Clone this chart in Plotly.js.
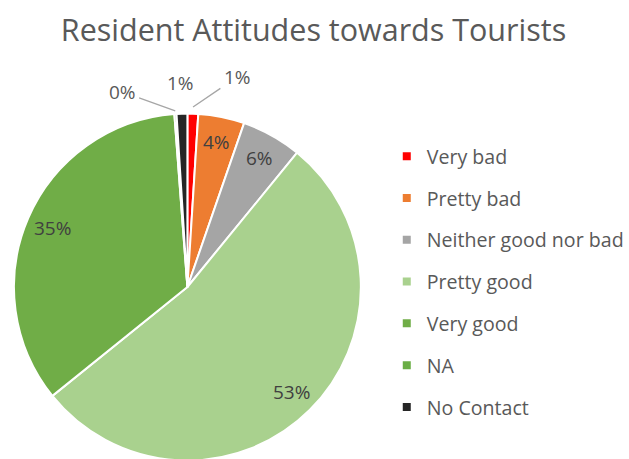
<!DOCTYPE html>
<html>
<head>
<meta charset="utf-8">
<script src="https://cdn.plot.ly/plotly-3.0.1.min.js"></script>
<style>html,body{margin:0;padding:0;overflow:hidden;background:#fff;}#chart{width:629px;height:462px;}</style>
</head>
<body>
<div id="chart"></div>
<script>
const categories = ["Very bad", "Pretty bad", "Neither good nor bad", "Pretty good", "Very good", "NA", "No Contact"];
const shares = [1.0, 4.3, 5.6, 53.3, 34.6, 0.2, 1.0];
const colors = ["#FF0000", "#ED7D31", "#A5A5A5", "#A9D18E", "#70AD47", "#6AAE45", "#262626"];

const FONT = "'Open Sans', Lato, sans-serif";
const W = 629, H = 462;
// pie placement (pixels)
const PIE = {cx: 188, cyFromBottom: 175, r: 174};

// label styling for small slices (pixel offsets of label from leader tip)
const outsideLabelStyle = {
  "Very bad":   {ax: 44, ay: -30, arrow: true, tipR: 1.035},
  "NA":         {ax: -53, ay: -19, arrow: true, tipR: 1.015},
  "No Contact": {ax: -1, ay: -23, arrow: false, tipR: 1.04}
};

const total = shares.reduce((a, b) => a + b, 0);
let cum = 0;
const annotations = [];
shares.forEach((v, i) => {
  const mid = (cum + v / 2) / total * 2 * Math.PI;
  cum += v;
  const pctText = Math.round(v / total * 100) + "%";
  const style = outsideLabelStyle[categories[i]];
  if (!style) {
    const rr = 0.85 * PIE.r;
    annotations.push({
      xref: "paper", yref: "paper",
      x: (PIE.cx + rr * Math.sin(mid)) / W,
      y: (PIE.cyFromBottom + rr * Math.cos(mid)) / H,
      text: pctText, showarrow: false,
      xanchor: "center", yanchor: "middle",
      font: {family: FONT, size: 19, color: "#404040"}
    });
  } else {
    const rr = style.tipR * PIE.r;
    const tx = (PIE.cx + rr * Math.sin(mid)) / W;
    const ty = (PIE.cyFromBottom + rr * Math.cos(mid)) / H;
    if (style.arrow) {
      annotations.push({
        xref: "paper", yref: "paper", x: tx, y: ty,
        ax: style.ax, ay: style.ay,
        text: pctText, showarrow: true, arrowhead: 0, arrowwidth: 1.3,
        arrowcolor: "#A6A6A6", standoff: 0, startstandoff: 2,
        font: {family: FONT, size: 19, color: "#595959"}
      });
    } else {
      annotations.push({
        xref: "paper", yref: "paper",
        x: tx + style.ax / W, y: ty - style.ay / H,
        text: pctText, showarrow: false,
        xanchor: "center", yanchor: "middle",
        font: {family: FONT, size: 19, color: "#595959"}
      });
    }
  }
});

const pie = {
  type: "pie",
  labels: categories,
  values: shares,
  sort: false,
  direction: "clockwise",
  rotation: 0,
  marker: {colors: colors, line: {color: "#ffffff", width: 2}},
  textinfo: "none",
  hoverinfo: "label+percent",
  showlegend: false,
  domain: {x: [(PIE.cx - PIE.r) / W, (PIE.cx + PIE.r) / W],
           y: [(PIE.cyFromBottom - PIE.r) / H, (PIE.cyFromBottom + PIE.r) / H]}
};

const legendTraces = categories.map((c, i) => ({
  type: "scatter",
  mode: "markers",
  x: [null], y: [null],
  name: c,
  legendgroup: "g" + i,
  marker: {symbol: "square", size: 8, color: colors[i]},
  showlegend: true,
  hoverinfo: "skip"
}));

const layout = {
  width: W, height: H,
  margin: {l: 0, r: 0, t: 0, b: 0},
  paper_bgcolor: "#ffffff",
  plot_bgcolor: "#ffffff",
  title: {text: "Resident Attitudes towards Tourists", x: 313.5 / W, xanchor: "center", y: 1 - 30 / H, yanchor: "middle", yref: "container",
          font: {family: FONT, size: 30.5, color: "#595959"}},
  xaxis: {visible: false, domain: [0.95, 1]},
  yaxis: {visible: false, domain: [0.95, 1]},
  annotations: annotations,
  showlegend: true,
  legend: {x: 388 / W, xanchor: "left", y: 1 - 137 / H, yanchor: "top",
           font: {family: FONT, size: 19.6, color: "#595959"},
           tracegroupgap: 13.3, bgcolor: "rgba(0,0,0,0)", itemclick: false}
};

Plotly.newPlot("chart", [pie].concat(legendTraces), layout, {displayModeBar: false, staticPlot: true});
</script>
</body>
</html>
